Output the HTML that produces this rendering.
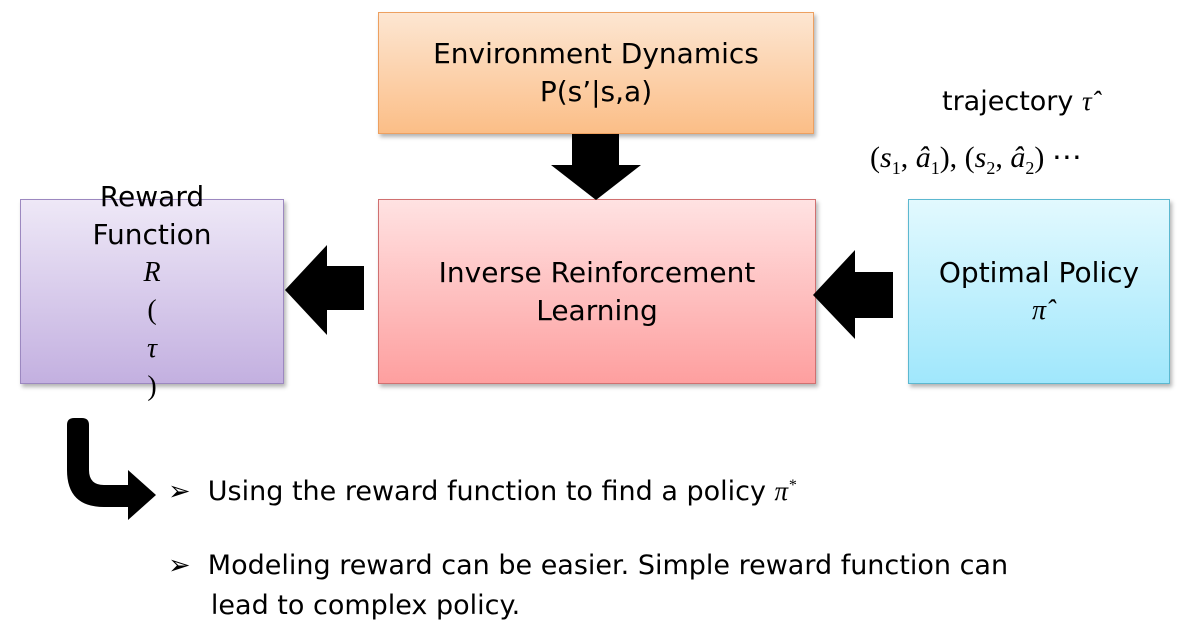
<!DOCTYPE html>
<html><head><meta charset="utf-8"><style>
body{margin:0;width:1195px;height:631px;background:#fff;position:relative;overflow:hidden;font-family:"DejaVu Sans","Liberation Sans",sans-serif;color:#000}
.b{position:absolute;box-sizing:border-box;display:flex;flex-direction:column;align-items:center;justify-content:center;text-align:center;font-size:28px;line-height:38px;box-shadow:2px 3px 4px rgba(0,0,0,.3)}
.m{font-family:"Liberation Serif","DejaVu Serif",serif;font-style:italic}
.t{position:absolute;font-size:27px;white-space:nowrap}
</style></head><body>
<div class="b" style="left:378px;top:12px;width:436px;height:122px;background:linear-gradient(#fde6d2,#fbbe87);border:1px solid #eda060">Environment Dynamics<br>P(s’|s,a)</div>
<div class="b" style="left:20px;top:199px;width:264px;height:185px;background:linear-gradient(#eee8f7,#c3b0e0);border:1px solid #9c88c0">Reward<br>Function<br><span class="m">R</span><span class="m" style="font-style:normal">(</span><span class="m">τ</span><span class="m" style="font-style:normal">)</span></div>
<div class="b" style="left:378px;top:199px;width:438px;height:185px;background:linear-gradient(#ffe2e2,#fe9f9f);border:1px solid #d07070">Inverse Reinforcement<br>Learning</div>
<div class="b" style="left:908px;top:199px;width:262px;height:185px;background:linear-gradient(#e2f9fe,#a0e7fc);border:1px solid #5cb8d0">Optimal Policy<br><span class="m">π̂</span></div>
<div class="t" style="left:942px;top:86px">trajectory <span class="m">τ̂</span></div>
<div class="t m" style="left:870px;top:140px;font-style:normal;font-family:'Liberation Serif',serif;font-size:30px">(<i>s</i><sub style="font-size:18px">1</sub>, <i>â</i><sub style="font-size:18px">1</sub>), (<i>s</i><sub style="font-size:18px">2</sub>, <i>â</i><sub style="font-size:18px">2</sub>) ⋯</div>
<svg width="1195" height="631" style="position:absolute;left:0;top:0">
<polygon points="572,134 619,134 619,165 641,165 596,200 551,165 572,165" fill="#000"/>
<polygon points="364,266 327,266 327,245 285,290 327,335 327,310 364,310" fill="#000"/>
<polygon points="893,272 855,272 855,250 813,295 855,339 855,318 893,318" fill="#000"/>
<path d="M67,425 Q67,418 74,418 L82,418 Q89,418 89,425 L89,470 Q89,485 104,485 L128,485 L128,470 L156,495 L128,520 L128,507 L104,507 Q67,507 67,470 Z" fill="#000"/>
</svg>
<div class="t" style="left:168px;top:476px">➢&nbsp; Using the reward function to find a policy <span class="m">π</span><sup class="m" style="font-size:16px">*</sup></div>
<div class="t" style="left:168px;top:546px;line-height:40px">➢&nbsp; Modeling reward can be easier. Simple reward function can<br>&nbsp;&nbsp;&nbsp;&nbsp;&nbsp;lead to complex policy.</div>
</body></html>
